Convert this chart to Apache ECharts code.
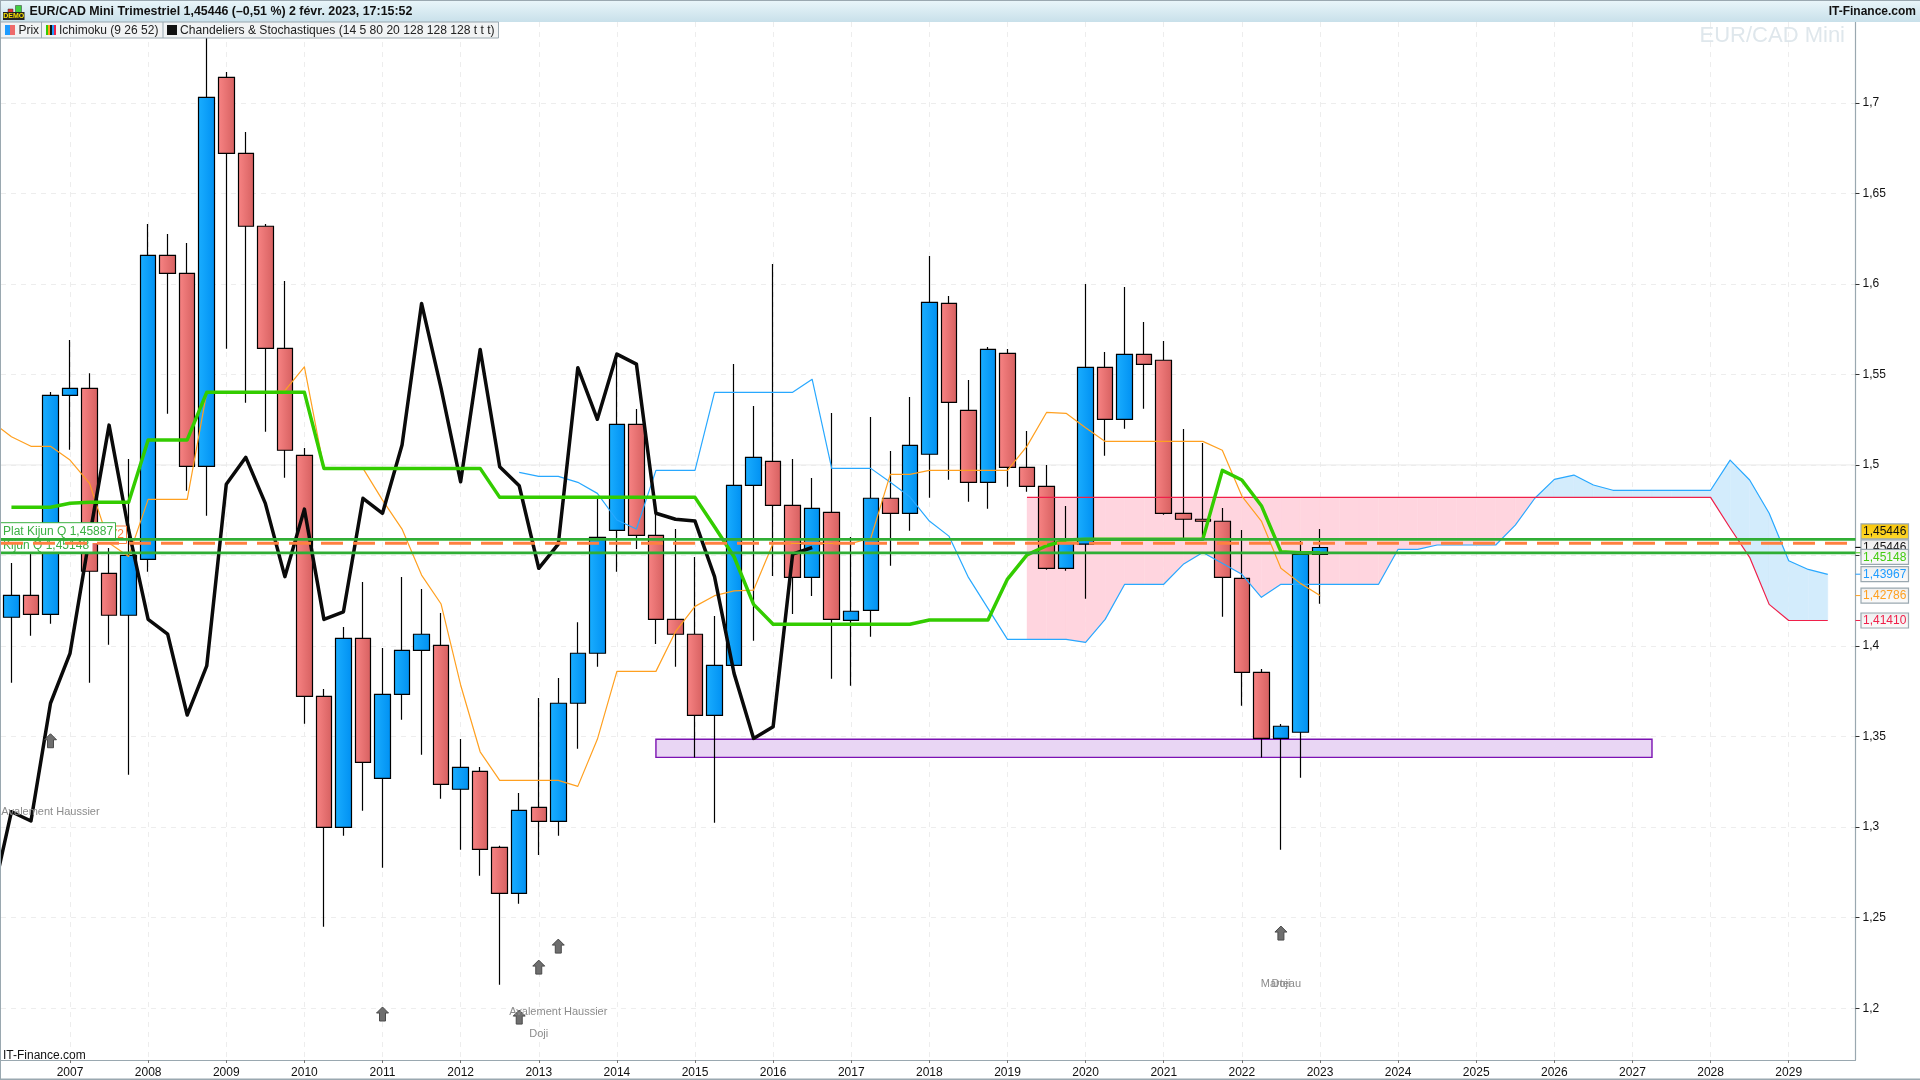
<!DOCTYPE html>
<html><head><meta charset="utf-8">
<style>html,body{margin:0;padding:0;background:#fff}#c{width:1920px;height:1080px}</style>
<script src="https://cdn.jsdelivr.net/npm/echarts@6/dist/echarts.min.js"></script>
</head><body><div id="c"></div>
<script>
// Quarterly series: first quarter is 2006 Q2, each step is 0.25 year
const firstQuarter = 2006.25;
// [open, close, low, high]
const ohlc = [
[1.4159,1.4280,1.3797,1.4458],[1.4280,1.4175,1.4057,1.4514],[1.4175,1.5384,1.4123,1.5403],[1.5384,1.5423,1.5084,1.5690],
[1.5423,1.4413,1.3797,1.5507],[1.4401,1.4170,1.4007,1.4541],[1.4170,1.4501,1.3289,1.5033],[1.4479,1.6157,1.4410,1.6330],
[1.6157,1.6058,1.5283,1.6275],[1.6058,1.4992,1.4858,1.6225],[1.4992,1.7030,1.4720,1.7400],[1.7140,1.6721,1.5642,1.7170],
[1.6721,1.6318,1.5344,1.6838],[1.6318,1.5644,1.5183,1.6330],[1.5644,1.5081,1.4929,1.6016],[1.5053,1.3722,1.3571,1.5093],
[1.3722,1.2999,1.2450,1.3763],[1.2999,1.4042,1.2952,1.4105],[1.4042,1.3358,1.3091,1.4353],[1.3269,1.3733,1.2776,1.3989],
[1.3733,1.3976,1.3593,1.4381],[1.3976,1.4065,1.3400,1.4315],[1.4004,1.3236,1.3157,1.4182],[1.3209,1.3330,1.2875,1.3487],
[1.3308,1.2877,1.2732,1.3332],[1.2888,1.2634,1.2130,1.2897],[1.2634,1.3093,1.2577,1.3188],[1.3109,1.3032,1.2846,1.3713],
[1.3032,1.3684,1.2952,1.3823],[1.3684,1.3960,1.3433,1.4132],[1.3960,1.4600,1.3886,1.4812],[1.4639,1.5224,1.4410,1.5590],
[1.5224,1.4611,1.4536,1.5309],[1.4611,1.4147,1.4011,1.4734],[1.4147,1.4065,1.3886,1.4646],[1.4065,1.3617,1.3385,1.4491],
[1.3617,1.3893,1.3024,1.4166],[1.3893,1.4887,1.3893,1.5557],[1.4887,1.5042,1.4029,1.5325],[1.5020,1.4777,1.4387,1.6109],
[1.4777,1.4379,1.4177,1.5033],[1.4379,1.4760,1.4276,1.4928],[1.4738,1.4147,1.3819,1.5287],[1.4142,1.4192,1.3781,1.4602],
[1.4197,1.4816,1.4051,1.5265],[1.4816,1.4733,1.4443,1.5077],[1.4733,1.5108,1.4637,1.5375],[1.5059,1.5898,1.4819,1.6154],
[1.5892,1.5346,1.4918,1.5933],[1.5301,1.4904,1.4797,1.5469],[1.4904,1.5638,1.4758,1.5651],[1.5616,1.4987,1.4880,1.5640],
[1.4987,1.4882,1.4852,1.5187],[1.4882,1.4429,1.4421,1.4999],[1.4429,1.4569,1.4416,1.4773],[1.4563,1.5539,1.4261,1.5999],
[1.5539,1.5252,1.5051,1.5623],[1.5252,1.5611,1.5200,1.5982],[1.5611,1.5555,1.5310,1.5789],[1.5578,1.4733,1.4725,1.5684],
[1.4733,1.4700,1.4585,1.5198],[1.4700,1.4689,1.4596,1.5121],[1.4689,1.4379,1.4162,1.4762],[1.4374,1.3855,1.3670,1.4641],
[1.3855,1.3490,1.3385,1.3873],[1.3490,1.3557,1.2875,1.3569],[1.3524,1.4506,1.3273,1.4580],[1.4506,1.4544,1.4234,1.4646]];
// Kijun from quarter 0
const kijun = [1.4766,1.4766,1.4766,1.4788,1.4794,1.4794,1.4794,1.5138,1.5138,1.5138,1.5401,1.5401,1.5401,1.5401,1.5401,1.5401,
1.4981,1.4981,1.4981,1.4981,1.4981,1.4981,1.4981,1.4981,1.4981,1.4821,1.4821,1.4821,1.4821,1.4821,1.4821,1.4821,1.4821,1.4821,1.4821,1.4821,
1.4659,1.4493,1.4230,1.4120,1.4120,1.4120,1.4120,1.4120,1.4120,1.4120,1.4120,1.4144,1.4144,1.4144,1.4144,1.4370,1.4503,1.4554,1.4585,
1.4589,1.4589,1.4589,1.4589,1.4589,1.4589,1.4589,1.4970,1.4917,1.4775,1.4521,1.4515,1.4515];
// Tenkan from quarter -1 (runs off the left edge)
const tenkan = [1.5237,1.5156,1.5103,1.5103,1.5027,1.4898,1.4569,1.4495,1.4810,1.4810,1.4810,1.5401,1.5401,1.5401,1.5401,1.5410,1.5542,
1.4981,1.4981,1.4981,1.4806,1.4646,1.4392,1.4232,1.3785,1.3416,1.3258,1.3258,1.3258,1.3258,1.3225,1.3485,1.3860,1.3860,1.3860,1.4079,1.4219,
1.4278,1.4305,1.4309,1.4567,1.4567,1.4567,1.4567,1.4567,1.4595,1.4948,1.4948,1.4970,1.4970,1.4970,1.4970,1.4970,1.5104,1.5290,1.5285,1.5205,
1.5130,1.5130,1.5130,1.5130,1.5130,1.5130,1.5081,1.4828,1.4690,1.4429,1.4346,1.4279];
// Black line from quarter -1
const chikou = [1.2599,1.3085,1.3034,1.3684,1.3960,1.4604,1.5220,1.4641,1.4147,1.4066,1.3619,1.3890,1.4893,1.5042,1.4788,1.4383,1.4756,1.4147,
1.4189,1.4816,1.4733,1.5110,1.5892,1.5423,1.4907,1.5638,1.4990,1.4885,1.4429,1.4563,1.5537,1.5252,1.5612,1.5557,1.4733,1.4700,1.4690,1.4383,
1.3849,1.3490,1.3554,1.4508,1.4544];
// Senkou A from quarter 26
const senkouAStart = 26;
const senkouA = [1.4959,1.4937,1.4937,1.4904,1.4843,1.4696,1.4646,1.4970,1.4970,1.4970,1.5401,1.5401,1.5401,1.5401,1.5401,1.5473,1.4981,1.4981,1.4981,
1.4904,1.4824,1.4690,1.4607,1.4379,1.4208,1.4037,1.4037,1.4037,1.4037,1.4020,1.4147,1.4341,1.4341,1.4341,1.4451,1.4517,1.4457,1.4396,1.4269,
1.4341,1.4341,1.4341,1.4341,1.4341,1.4341,1.4534,1.4534,1.4558,1.4558,1.4558,1.4558,1.4668,1.4816,1.4920,1.4944,1.4889,
1.4860,1.4860,1.4860,1.4860,1.4860,1.4860,1.5027,1.4917,1.4733,1.4471,1.4423,1.4396];
// Senkou B from quarter 52
const senkouBStart = 52;
const senkouB = [1.4821,1.4821,1.4821,1.4821,1.4821,1.4821,1.4821,1.4821,1.4821,1.4821,1.4821,1.4821,1.4821,1.4821,1.4821,1.4821,1.4821,1.4821,
1.4821,1.4821,1.4821,1.4821,1.4821,1.4821,1.4821,1.4821,1.4821,1.4821,1.4821,1.4821,1.4821,1.4821,1.4821,1.4821,1.4821,1.4821,1.4652,1.4490,1.4230,1.4141,1.4141,1.4141];
const platKijun = 1.45887, kijunQ = 1.45148, orangeLevel = 1.4567, majorLevel = 1.5;
const zone = {from: 2014.5, to: 2027.25, low: 1.3385, high: 1.3485};
const arrowX = [2006.75, 2011, 2012.75, 2013, 2013.25, 2022.5];
const arrowY = [1.3477, 1.1968, 1.1951, 1.2227, 1.2343, 1.2415];
const noteText = ['Avalement Haussier','Avalement Haussier','Doji','Marteau','Doji'];
const noteX = [2006.75, 2013.25, 2013, 2022.5, 2022.5];
const noteY = [1.3082, 1.1977, 1.1856, 1.2132, 1.2132];
const yearTicks = [2007,2008,2009,2010,2011,2012,2013,2014,2015,2016,2017,2018,2019,2020,2021,2022,2023,2024,2025,2026,2027,2028,2029];
const priceTicks = [1.2,1.25,1.3,1.35,1.4,1.45,1.5,1.55,1.6,1.65,1.7];
const priceLabels = [1.2,1.25,1.3,1.35,1.4,1.5,1.55,1.6,1.65,1.7];
const tagValues = [1.45446,1.45446,1.45148,1.43967,1.42786,1.41410];
const tagText = ['1,45446','1,45446','1,45148','1,43967','1,42786','1,41410'];
const tagInk = ['#111','#111','#44CC11','#1E9CFF','#FFA020','#F0204A'];
const tagShift = [0,-16,4,0,0,0];

const FONT = '"Liberation Sans", Arial, sans-serif';
const xMin = 2006.1165, xMax = 2029.855, yMin = 1.1714, yMax = 1.7446;
const qx = i => firstQuarter + i * 0.25;
const series2 = (arr, start) => arr.map((v, k) => [qx(start + k), v]);
const grad = (a, b) => ({type:'linear',x:0,y:0,x2:1,y2:0,colorStops:[{offset:0,color:a},{offset:1,color:b}]});
const lineS = (name, data, color, width, z, extra) => Object.assign({
  name, type:'line', data, symbol:'none', smooth:false, clip:true, z, silent:true,
  lineStyle:{color, width, join:'round', cap:'butt'}}, extra || {});
const level = v => [[xMin, v],[xMax, v]];

// cloud segments
const cloudSeg = senkouB.slice(0,-1).map((b,k)=>k);
const Aat = k => senkouA[k + senkouBStart - senkouAStart];
function renderCloud(params, api){
  const k = params.dataIndex;
  const x0 = qx(senkouBStart+k), x1 = qx(senkouBStart+k+1);
  const a0 = Aat(k), a1 = Aat(k+1), b0 = senkouB[k], b1 = senkouB[k+1];
  const PINK='#FFD5DF', BLUE='#D3ECFC';
  const poly = (pts, fill) => ({type:'polygon', shape:{points:pts.map(p=>api.coord(p))}, style:{fill, stroke:fill, lineWidth:0.4}, silent:true});
  const d0 = a0-b0, d1 = a1-b1;
  const children = [];
  if (d0*d1 < 0){
    const t = d0/(d0-d1), xc = x0+(x1-x0)*t, yc = a0+(a1-a0)*t;
    children.push(poly([[x0,a0],[xc,yc],[x0,b0]], d0>0?BLUE:PINK));
    children.push(poly([[xc,yc],[x1,a1],[x1,b1]], d1>0?BLUE:PINK));
  } else {
    children.push(poly([[x0,a0],[x1,a1],[x1,b1],[x0,b0]], (d0+d1)>0?BLUE:PINK));
  }
  return {type:'group', children};
}
function renderZone(params, api){
  const p0 = api.coord([zone.from, zone.high]), p1 = api.coord([zone.to, zone.low]);
  return {type:'rect', shape:{x:p0[0],y:p0[1],width:p1[0]-p0[0],height:p1[1]-p0[1]},
    style:{fill:'#E9D6F4',stroke:'#7B12B2',lineWidth:1.4}, silent:true};
}
function renderNote(params, api){
  const p = api.coord([api.value(0), api.value(1)]);
  return {type:'text', x:p[0], y:p[1], style:{text:noteText[params.dataIndex], fill:'#8C8C8C',
    font:'11px '+FONT, textAlign:'center', textVerticalAlign:'middle'}, silent:true};
}
function renderTag(params, api){
  const k = params.dataIndex;
  const p = api.coord([xMax, api.value(0)]);
  const y = p[1], cy = y + tagShift[k], ax = p[0];
  const yellow = k === 1;
  return {type:'group', silent:true, children:[
    {type:'line', shape:{x1:ax,y1:y,x2:ax+5,y2:y}, style:{stroke:tagInk[k],lineWidth:1}},
    {type:'rect', shape:{x:ax+5.5,y:cy-7.5,width:47.5,height:15},
      style:{fill: yellow ? {type:'linear',x:0,y:0,x2:0,y2:1,colorStops:[{offset:0,color:'#F8C50A'},{offset:1,color:'#FFD92A'}]}
        : {type:'linear',x:0,y:0,x2:0,y2:1,colorStops:[{offset:0,color:'#EEEEEE'},{offset:1,color:'#FBFBFB'}]},
        stroke:'#9AA8B0', lineWidth:1.2}},
    {type:'text', x:ax+7.5, y:cy+0.5, style:{text:tagText[k], fill:tagInk[k], font:'12px '+FONT, textAlign:'left', textVerticalAlign:'middle'}}
  ]};
}

const BORDER = '#9AA8B0';
const graphicEls = [
  {type:'rect', z:20, shape:{x:0,y:0,width:1920,height:22}, style:{fill:{type:'linear',x:0,y:0,x2:0,y2:1,colorStops:[{offset:0,color:'#EAF6FA'},{offset:1,color:'#C8E0EA'}]}}},
  {type:'rect', z:21, shape:{x:0,y:0,width:1920,height:1}, style:{fill:BORDER}},
  {type:'rect', z:21, shape:{x:0,y:0,width:1,height:1080}, style:{fill:BORDER}},
  {type:'rect', z:21, shape:{x:0,y:1078.5,width:1920,height:1.5}, style:{fill:BORDER}},
  // demo icon
  {type:'rect', z:22, shape:{x:8,y:9,width:5,height:7}, style:{fill:'#E03030',stroke:'#333',lineWidth:0.5}},
  {type:'rect', z:22, shape:{x:15.5,y:5.5,width:6,height:7}, style:{fill:'#3FCF3F',stroke:'#333',lineWidth:0.5}},
  {type:'rect', z:22, shape:{x:3,y:12,width:21.5,height:8}, style:{fill:'#222'}},
  {type:'text', z:23, x:13.8, y:16.3, style:{text:'DEMO', fill:'#F8E000', font:'bold 7px '+FONT, textAlign:'center', textVerticalAlign:'middle'}},
  {type:'text', z:22, x:29.4, y:12, style:{text:'EUR/CAD Mini Trimestriel 1,45446 (\u20130,51 %) 2 f\u00e9vr. 2023, 17:15:52', fill:'#111', font:'bold 12.4px '+FONT, textVerticalAlign:'middle'}},
  {type:'text', z:22, x:1916, y:12, style:{text:'IT-Finance.com', fill:'#111', font:'bold 12px '+FONT, textAlign:'right', textVerticalAlign:'middle'}},
  // legend
  {type:'rect', z:20, shape:{x:0.5,y:22,width:498,height:16}, style:{fill:'#F1F3F4',stroke:BORDER,lineWidth:1}},
  {type:'rect', z:21, shape:{x:41,y:22,width:1,height:16}, style:{fill:BORDER}},
  {type:'rect', z:21, shape:{x:162.5,y:22,width:1,height:16}, style:{fill:BORDER}},
  {type:'rect', z:21, shape:{x:5,y:25,width:5,height:10}, style:{fill:'#1E9CFF'}},
  {type:'rect', z:21, shape:{x:10,y:25,width:5,height:10}, style:{fill:'#EE6A6A'}},
  {type:'rect', z:21, shape:{x:46,y:25,width:2,height:10}, style:{fill:'#33CC00'}},
  {type:'rect', z:21, shape:{x:48,y:25,width:2,height:10}, style:{fill:'#FFA020'}},
  {type:'rect', z:21, shape:{x:50,y:25,width:2,height:10}, style:{fill:'#111'}},
  {type:'rect', z:21, shape:{x:52,y:25,width:2,height:10}, style:{fill:'#1E9CFF'}},
  {type:'rect', z:21, shape:{x:54,y:25,width:2,height:10}, style:{fill:'#F0204A'}},
  {type:'rect', z:21, shape:{x:167,y:25,width:10,height:10}, style:{fill:'#111'}},
  {type:'text', z:22, x:18.4, y:30.5, style:{text:'Prix', fill:'#222', font:'12px '+FONT, textVerticalAlign:'middle'}},
  {type:'text', z:22, x:59, y:30.5, style:{text:'Ichimoku (9 26 52)', fill:'#222', font:'12px '+FONT, textVerticalAlign:'middle'}},
  {type:'text', z:22, x:180, y:30.5, style:{text:'Chandeliers & Stochastiques (14 5 80 20 128 128 128 t t t)', fill:'#222', font:'12.1px '+FONT, textVerticalAlign:'middle'}},
  // watermark
  {type:'text', z:4, x:1845, y:36, style:{text:'EUR/CAD Mini', fill:'#DFE7EC', font:'22px '+FONT, textAlign:'right', textVerticalAlign:'middle'}},
  // level labels on the left
  {type:'rect', z:10, shape:{x:0.5,y:526,width:126,height:17.5}, style:{fill:'#fff',stroke:'#FF8040',lineWidth:1}},
  {type:'text', z:10, x:124, y:535, style:{text:'Plat Tenkan Q 1,45672', fill:'#FF8040', font:'12px '+FONT, textAlign:'right', textVerticalAlign:'middle'}},
  {type:'rect', z:10, shape:{x:0.5,y:541,width:92,height:12}, style:{fill:'#fff'}},
  {type:'text', z:10, x:3, y:546, style:{text:'Kijun Q 1,45148', fill:'#3CB043', font:'12px '+FONT, textVerticalAlign:'middle'}},
  {type:'rect', z:11, shape:{x:0.5,y:522.7,width:115,height:17.5}, style:{fill:'#fff',stroke:'#3CB043',lineWidth:1}},
  {type:'text', z:11, x:3, y:531.5, style:{text:'Plat Kijun Q 1,45887', fill:'#3CB043', font:'12px '+FONT, textVerticalAlign:'middle'}},
  {type:'text', z:11, x:3, y:1056, style:{text:'IT-Finance.com', fill:'#111', font:'12px '+FONT, textVerticalAlign:'middle'}}
];

const chart = echarts.init(document.getElementById('c'), null, {renderer:'canvas', width:1920, height:1080});
chart.setOption({
  animation:false,
  backgroundColor:'#fff',
  grid:{left:1, right:64.5, top:22, bottom:20, containLabel:false},
  xAxis:{type:'value', min:xMin, max:xMax, position:'bottom',
    axisLine:{show:true, onZero:false, lineStyle:{color:BORDER,width:1.2}},
    axisTick:{show:true, length:3, customValues:yearTicks, lineStyle:{color:'#777'}},
    axisLabel:{show:true, customValues:yearTicks, margin:7, color:'#111', fontFamily:'Liberation Sans', fontSize:12, formatter:v=>String(Math.round(v))},
    splitLine:{show:true, lineStyle:{color:'#EDEDED',width:1,type:[5,5]}}},
  yAxis:{type:'value', min:yMin, max:yMax, position:'right',
    axisLine:{show:true, onZero:false, lineStyle:{color:BORDER,width:1.2}},
    axisTick:{show:true, length:4, customValues:priceTicks, lineStyle:{color:'#333'}},
    axisLabel:{show:true, customValues:priceLabels, margin:7, color:'#111', fontFamily:'Liberation Sans', fontSize:12, formatter:v=>String(+v.toFixed(2)).replace('.',',')},
    splitLine:{show:true, lineStyle:{color:'#EDEDED',width:1,type:[5,5]}}},
  graphic:{elements:graphicEls},
  series:[
    lineS('major', level(majorLevel), '#EAEAEA', 1, 0),
    {type:'custom', name:'cloud', z:1, silent:true, renderItem:renderCloud, data:cloudSeg.map(k=>[qx(senkouBStart+k), senkouB[k]]), encode:{x:0,y:1}},
    {type:'custom', name:'zone', z:1, silent:true, renderItem:renderZone, data:[[zone.from, zone.low]], encode:{x:0,y:1}},
    {type:'candlestick', name:'Prix', z:2, barWidth:16, silent:true,
      data:ohlc.map((d,i)=>[qx(i),d[0],d[1],d[2],d[3]]),
      itemStyle:{color:grad('#1AAEFF','#0090F2'), color0:grad('#F88484','#D66060'), borderColor:'#000', borderColor0:'#000', borderWidth:1.2}},
    lineS('senkouA', series2(senkouA, senkouAStart), '#28A8FF', 1.2, 3),
    lineS('senkouB', series2(senkouB, senkouBStart), '#F0204A', 1.2, 3),
    lineS('tenkan', series2(tenkan, -1), '#FFA020', 1.2, 4),
    lineS('chikou', series2(chikou, -1), '#0A0A0A', 3.5, 5),
    lineS('kijun', series2(kijun, 0), '#33CC00', 3.5, 6),
    {type:'custom', name:'arrows', z:6, silent:true, data:arrowX.map((x,i)=>[x,arrowY[i]]), encode:{x:0,y:1},
      renderItem:(params,api)=>{const p=api.coord([api.value(0),api.value(1)]);
        return {type:'polygon', x:p[0], y:p[1], silent:true,
          shape:{points:[[0,-7],[6,-1],[3,-1],[3,7],[-3,7],[-3,-1],[-6,-1]]},
          style:{fill:'#6E6E6E',stroke:'#4A4A4A',lineWidth:1}};}},
    {type:'custom', name:'notes', z:6, silent:true, renderItem:renderNote, data:noteX.map((x,i)=>[x,noteY[i]]), encode:{x:0,y:1}},
    lineS('platKijun', level(platKijun), '#30AE35', 2.8, 30),
    lineS('kijunQ', level(kijunQ), '#30AE35', 2.8, 30),
    Object.assign(lineS('orangeLevel', level(orangeLevel), '#FF8040', 3, 30),
      {lineStyle:{color:'#FF8040',width:3,type:[22,10],cap:'butt'}}),
    {type:'custom', name:'tags', z:31, silent:true, renderItem:renderTag, data:tagValues.map(v=>[v]), encode:{y:0}}
  ]
});
</script></body></html>
